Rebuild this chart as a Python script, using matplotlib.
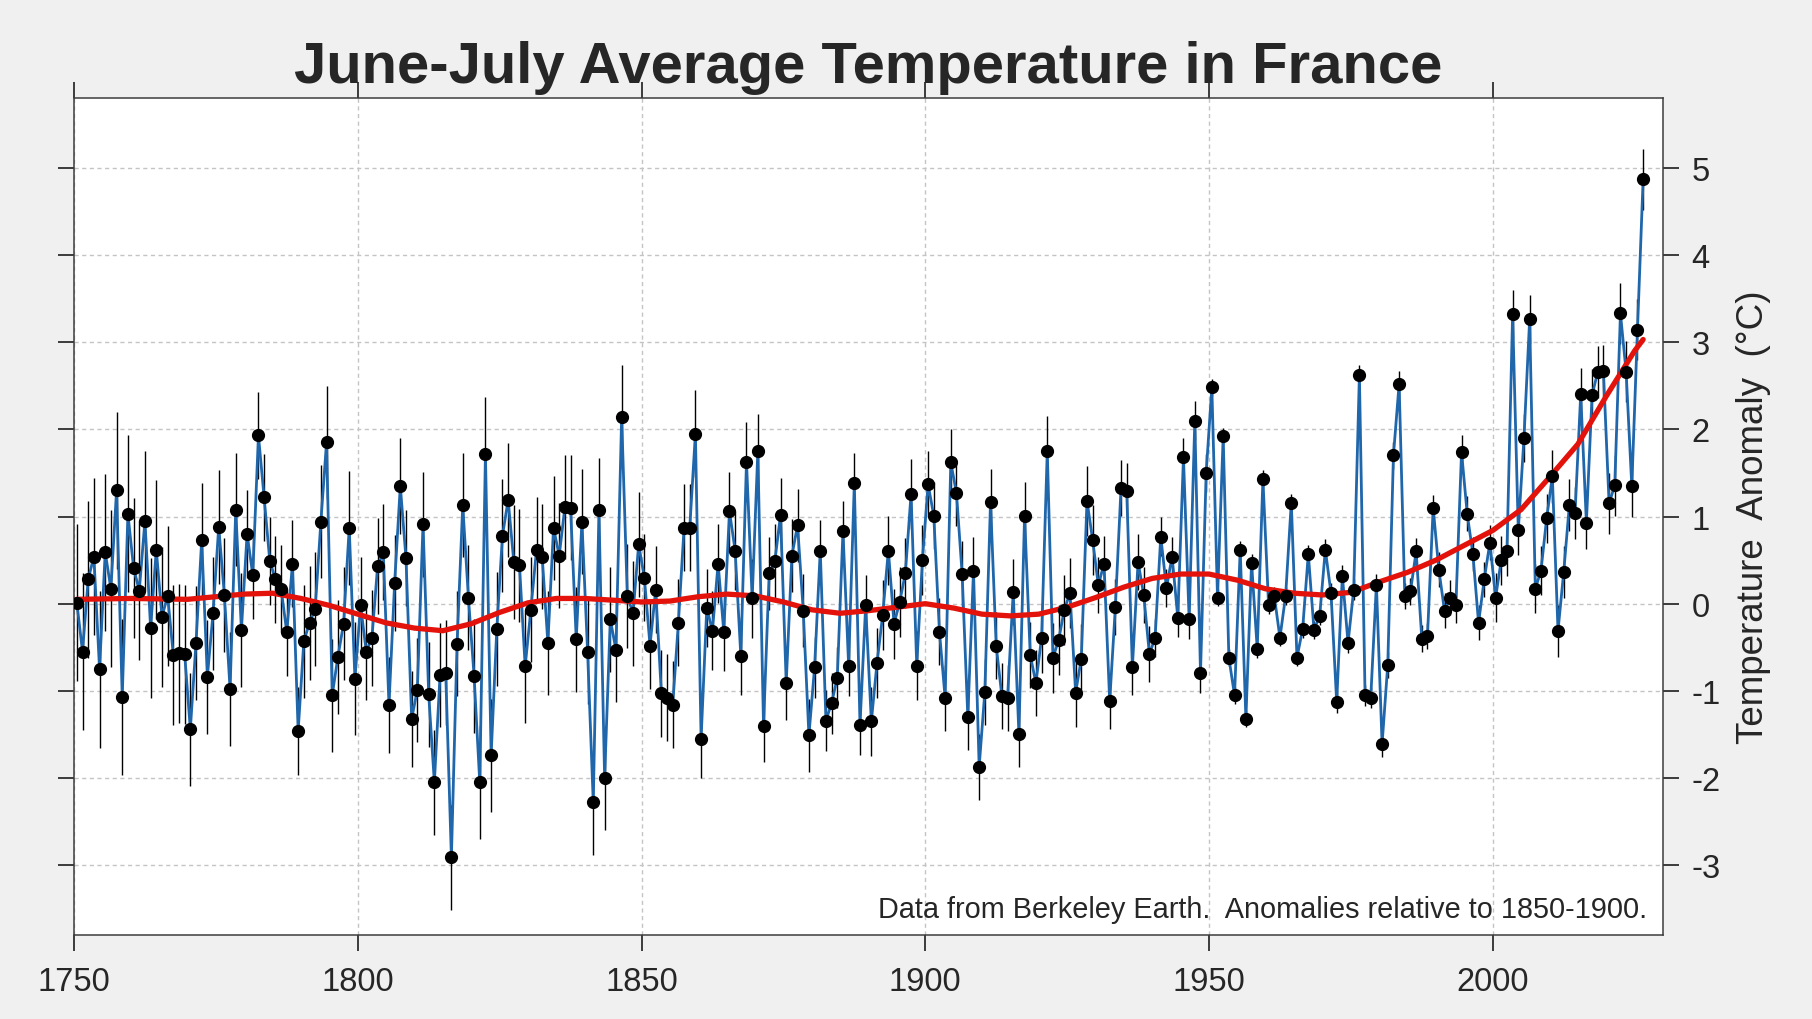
import numpy as np
import matplotlib
matplotlib.use("Agg")
import matplotlib.pyplot as plt

plt.rcParams['font.family'] = ['Liberation Sans', 'DejaVu Sans']
plt.rcParams['axes.unicode_minus'] = False

# June-July anomalies (deg C), one value per year, 1750 .. 2026
years = np.arange(1750, 2027)
anomaly = [
    0.01, -0.55, 0.28, 0.54, -0.75, 0.59, 0.17, 1.30, -1.07, 1.03,
    0.41, 0.15, 0.95, -0.28, 0.62, -0.15, 0.09, -0.59, -0.57, -0.58,
    -1.44, -0.45, 0.73, -0.84, -0.11, 0.88, 0.10, -0.98, 1.08, -0.30,
    0.80, 0.33, 1.93, 1.22, 0.49, 0.28, 0.17, -0.33, 0.46, -1.46,
    -0.43, -0.22, -0.06, 0.94, 1.85, -1.05, -0.61, -0.23, 0.87, -0.86,
    -0.02, -0.55, -0.39, 0.43, 0.59, -1.16, 0.24, 1.35, 0.52, -1.32,
    -0.99, 0.91, -1.04, -2.05, -0.82, -0.79, -2.91, -0.46, 1.13, 0.07,
    -0.83, -2.05, 1.72, -1.74, -0.29, 0.78, 1.19, 0.48, 0.44, -0.72,
    -0.07, 0.62, 0.54, -0.45, 0.87, 0.55, 1.11, 1.10, -0.41, 0.94,
    -0.55, -2.28, 1.07, -2.00, -0.18, -0.53, 2.14, 0.09, -0.11, 0.68,
    0.30, -0.48, 0.16, -1.03, -1.08, -1.16, -0.22, 0.87, 0.87, 1.95,
    -1.55, -0.05, -0.31, 0.46, -0.32, 1.06, 0.61, -0.60, 1.63, 0.06,
    1.75, -1.40, 0.35, 0.49, 1.02, -0.91, 0.55, 0.90, -0.08, -1.51,
    -0.73, 0.61, -1.34, -1.14, -0.85, 0.83, -0.71, 1.38, -1.39, -0.02,
    -1.35, -0.68, -0.13, 0.61, -0.23, 0.02, 0.35, 1.26, -0.71, 0.50,
    1.37, 1.01, -0.32, -1.08, 1.62, 1.27, 0.34, -1.30, 0.38, -1.87,
    -1.01, 1.17, -0.48, -1.06, -1.08, 0.13, -1.49, 1.01, -0.59, -0.91,
    -0.39, 1.75, -0.62, -0.42, -0.07, 0.12, -1.02, -0.63, 1.18, 0.73,
    0.21, 0.46, -1.12, -0.04, 1.33, 1.29, -0.73, 0.48, 0.10, -0.58,
    -0.39, 0.77, 0.18, 0.54, -0.16, 1.68, -0.18, 2.10, -0.80, 1.50,
    2.48, 0.07, 1.92, -0.62, -1.05, 0.62, -1.32, 0.47, -0.52, 1.43,
    -0.02, 0.09, -0.39, 0.09, 1.16, -0.62, -0.29, 0.57, -0.30, -0.14,
    0.62, 0.12, -1.13, 0.32, -0.45, 0.16, 2.62, -1.05, -1.08, 0.22,
    -1.61, -0.70, 1.70, 2.52, 0.09, 0.14, 0.60, -0.40, -0.37, 1.10,
    0.39, -0.08, 0.07, -0.02, 1.74, 1.03, 0.57, -0.22, 0.28, 0.70,
    0.07, 0.50, 0.60, 3.32, 0.84, 1.90, 3.26, 0.17, 0.38, 0.98,
    1.46, -0.31, 0.36, 1.13, 1.04, 2.40, 0.93, 2.39, 2.66, 2.67,
    1.15, 1.36, 3.33, 2.66, 1.35, 3.14, 4.87,
]

# typical 1-sigma uncertainty for each decade (1750s .. 2020s)
err_decade = [0.90, 0.80, 0.65, 0.50, 0.65, 0.55, 0.60, 0.65, 0.60, 0.60,
              0.50, 0.45, 0.42, 0.35, 0.40, 0.38, 0.38, 0.40, 0.32, 0.22,
              0.10, 0.10, 0.12, 0.15, 0.20, 0.28, 0.30, 0.35]

# smoothed trend (red curve)
trend_years = [1750.5, 1760, 1770, 1775, 1780, 1785, 1790, 1795, 1800, 1805,
               1810, 1815, 1820, 1825, 1830, 1835, 1840, 1845, 1850, 1855,
               1860, 1865, 1870, 1875, 1880, 1885, 1890, 1895, 1900, 1905,
               1910, 1915, 1920, 1925, 1930, 1935, 1940, 1945, 1950, 1955,
               1960, 1965, 1970, 1975, 1980, 1985, 1990, 1995, 2000, 2005,
               2010, 2015, 2020, 2025, 2026.5]
trend_vals = [0.05, 0.06, 0.05, 0.08, 0.11, 0.12, 0.06, -0.02, -0.12, -0.22,
              -0.28, -0.31, -0.23, -0.10, 0.01, 0.06, 0.06, 0.04, 0.02, 0.03,
              0.08, 0.11, 0.09, 0.02, -0.07, -0.11, -0.08, -0.04, 0.00, -0.05,
              -0.12, -0.14, -0.12, -0.04, 0.07, 0.19, 0.29, 0.34, 0.34, 0.27,
              0.17, 0.12, 0.10, 0.13, 0.25, 0.36, 0.50, 0.67, 0.84, 1.08,
              1.45, 1.83, 2.38, 2.90, 3.03]

xticks = [1750, 1800, 1850, 1900, 1950, 2000]
yticks = [-3, -2, -1, 0, 1, 2, 3, 4, 5]

err = np.repeat(err_decade, 10)[:len(years)]
xpos = years + 0.5   # mid-year

fig = plt.figure(figsize=(18.12, 10.2), dpi=100, facecolor='#f0f0f0')
ax = fig.add_axes([74 / 1812, 84 / 1020, (1663 - 74) / 1812, (936 - 99) / 1020])
ax.set_facecolor('white')

ax.errorbar(xpos, anomaly, yerr=err, fmt='none', ecolor='black',
            elinewidth=1.0, capsize=0, zorder=2)
ax.plot(xpos, anomaly, color='#1f66ab', lw=2.0, zorder=3)
ax.plot(trend_years, trend_vals, color='#e3120b', lw=3.8, zorder=4,
        solid_capstyle='round', solid_joinstyle='round')
ax.plot(xpos, anomaly, 'o', color='black', ms=8.5, zorder=5)

ax.set_xlim(1750, 2030)
ax.set_ylim(-3.8, 5.8)
ax.set_xticks(xticks)
ax.set_yticks(yticks)
ax.grid(True, ls=(0, (3, 2.5)), color='#c4c4c4', lw=1.0, zorder=0)

for s in ax.spines.values():
    s.set_color('#3c3c3c')
    s.set_linewidth(1.1)

ax.tick_params(axis='x', direction='out', length=11.5, width=1.4, color='#3c3c3c',
               top=True, labeltop=False, labelsize=23.5, labelcolor='#262626', pad=11)
ax.tick_params(axis='y', direction='out', length=11.5, width=1.4, color='#3c3c3c',
               left=True, right=True, labelleft=False, labelright=True,
               labelsize=23.5, labelcolor='#262626', pad=9)

ax.yaxis.set_label_position('right')
ax.set_ylabel('Temperature  Anomaly  (°C)', fontsize=26.5, color='#262626')
ax.yaxis.set_label_coords(1.046, 0.5)

ax.text(0.99, 0.021, 'Data from Berkeley Earth.  Anomalies relative to 1850-1900.',
        transform=ax.transAxes, ha='right', va='baseline', fontsize=20.8,
        color='#262626')

fig.text(868 / 1812, 1 - 83 / 1020, 'June-July Average Temperature in France',
         ha='center', va='baseline', fontsize=41.8, fontweight='bold', color='#262626')

fig.savefig('out.png', dpi=100, facecolor=fig.get_facecolor())
